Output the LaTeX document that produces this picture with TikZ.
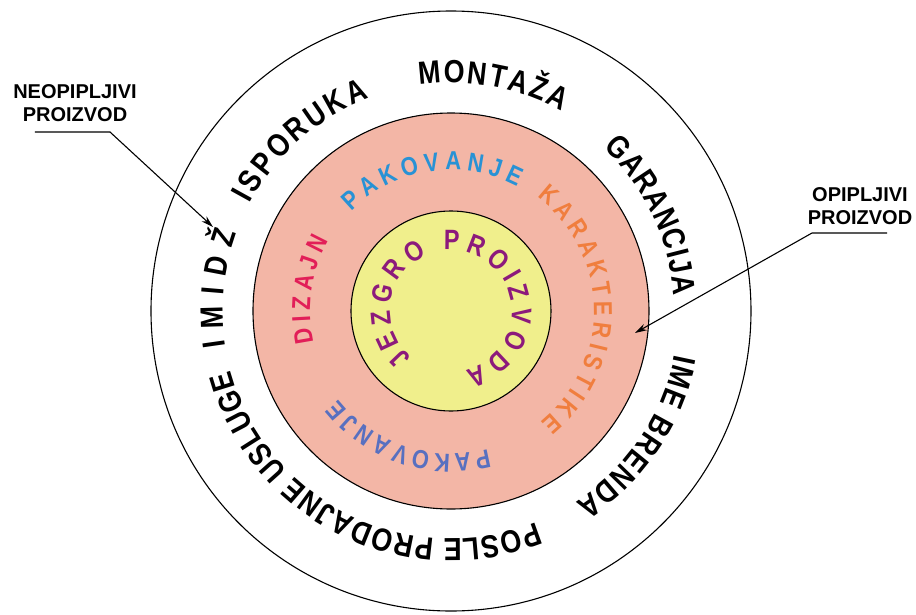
\documentclass[tikz,border=0pt]{standalone}
\usepackage{fontspec}
\setmainfont{Liberation Sans}
\newfontfamily\ringfont[FakeStretch=0.84]{Liberation Sans}
\usetikzlibrary{arrows.meta, decorations.text}

\definecolor{ringpink}{RGB}{243,182,166}
\definecolor{coreyellow}{RGB}{240,239,140}
\definecolor{pakblue}{RGB}{40,146,213}
\definecolor{pakslate}{RGB}{88,112,192}
\definecolor{karorange}{RGB}{240,126,62}
\definecolor{dizred}{RGB}{226,30,88}
\definecolor{corepurple}{RGB}{140,26,124}

\tikzset{
    ring/.style={draw=black, line width=1.1pt},
    leader/.style={draw=black, line width=1.1pt, -{Stealth[length=12pt,width=7pt]}},
    sidelabel/.style={font=\bfseries\fontsize{20}{23}\selectfont, align=center, inner sep=0pt},
}

% color, size, radius, start angle, end angle, text
\newcommand{\ringlabel}[6]{%
    \path[decorate, decoration={text along path, text align={fit to path},
        text={|\color{#1}\ringfont\bfseries\fontsize{#2}{#2}\selectfont|#6}}]
        (#4:#3) arc[start angle=#4, end angle=#5, radius=#3];}

\begin{document}
\begin{tikzpicture}[x=1pt, y=1pt]
    \useasboundingbox (-451,-303) rectangle (465,311);
    % Define radii
    \def\outer{300pt}
    \def\middle{198pt}
    \def\core{100pt}
    % Rings
    \draw[ring, fill=white] (0,0) circle[radius=\outer];
    \draw[ring, fill=ringpink] (0,0) circle[radius=\middle];
    \draw[ring, fill=coreyellow] (0,0) circle[radius=\core];
    % Outer ring texts
    \ringlabel{black}{32}{228pt}{189}{160}{IMIDŽ}
    \ringlabel{black}{32}{228pt}{152}{111}{ISPORUKA}
    \ringlabel{black}{32}{228pt}{98}{61}{MONTAŽA}
    \ringlabel{black}{32}{223pt}{47}{4}{GARANCIJA}
    \ringlabel{black}{32}{228pt}{-11}{-57}{IME BRENDA}
    \ringlabel{black}{32}{228pt}{-68}{-165}{POSLE PRODAJNE USLUGE}
    % Middle ring texts
    \ringlabel{pakblue}{26}{141pt}{135}{62}{PAKOVANJE}
    \ringlabel{karorange}{26}{143pt}{53}{-51}{KARAKTERISTIKE}
    \ringlabel{dizred}{26}{141pt}{193}{150}{DIZAJN}
    \ringlabel{pakslate}{26}{143pt}{-75}{-142}{PAKOVANJE}
    % Core text
    \ringlabel{corepurple}{28}{61pt}{230}{-76}{JEZGRO PROIZVODA}
    % Side labels with leaders
    \node[sidelabel] (neo) at (-376,208) {NEOPIPLJIVI\\PROIZVOD};
    \coordinate (neoL) at (-416,179);
    \coordinate (neoR) at (-341,179);
    \coordinate (neoTip) at (-238,84);
    \draw[leader] (neoL) -- (neoR) -- (neoTip);
    \node[sidelabel] (opi) at (409,105) {OPIPLJIVI\\PROIZVOD};
    \coordinate (opiR) at (436,78);
    \coordinate (opiL) at (361,78);
    \coordinate (opiTip) at (184,-22);
    \draw[leader] (opiR) -- (opiL) -- (opiTip);
\end{tikzpicture}
\end{document}
